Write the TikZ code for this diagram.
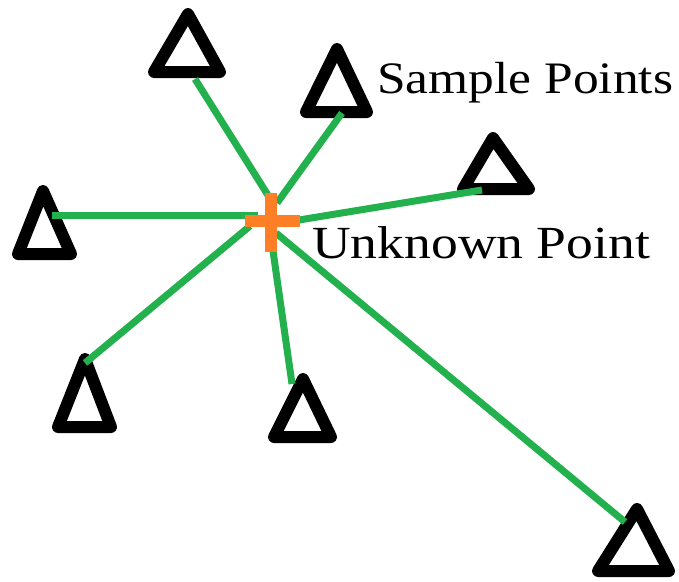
\documentclass[tikz,border=0pt]{standalone}
\usepackage{fontspec}
\setmainfont{Liberation Serif}
\definecolor{pgreen}{RGB}{34,177,76}
\definecolor{porange}{RGB}{255,127,39}
\begin{document}
\begin{tikzpicture}[x=1pt,y=-1pt,
  tri/.style={draw=black,line width=12pt,line join=round,fill=white},
  link/.style={draw=pgreen,line width=7pt},
  crossbar/.style={fill=porange,draw=none},
  lbl/.style={inner sep=0pt,font=\fontsize{45}{50}\selectfont}]
\useasboundingbox (0,0) rectangle (679,581);
% sample triangles
\draw[tri] (188,14) -- (220,72) -- (154,72) -- cycle;
\draw[tri] (337,49) -- (367,112) -- (306,112) -- cycle;
\draw[tri] (493,138) -- (529,189) -- (463,189) -- cycle;
\draw[tri] (43,191) -- (71,254) -- (18,254) -- cycle;
\draw[tri] (85,359) -- (111,427) -- (58,427) -- cycle;
\draw[tri] (303,379) -- (331,437) -- (274,437) -- cycle;
\draw[tri] (637,509) -- (669,571) -- (598,571) -- cycle;
% connector ends
\coordinate (s1) at (195,79);  \coordinate (e1) at (271,200);
\coordinate (s2) at (342,113); \coordinate (e2) at (277,203);
\coordinate (s3) at (482,190); \coordinate (e3) at (299,220);
\coordinate (s4) at (52,215);  \coordinate (e4) at (258,215);
\coordinate (s5) at (85,363);  \coordinate (e5) at (250,226);
\coordinate (s6) at (292,384); \coordinate (e6) at (272,244);
\coordinate (s7) at (625,522); \coordinate (e7) at (276,233);
\foreach \i in {1,...,7} {\draw[link] (s\i) -- (e\i);}
% unknown point cross
\node[crossbar,minimum width=55pt,minimum height=12pt,inner sep=0pt] (uh) at (272.5,221) {};
\node[crossbar,minimum width=12pt,minimum height=59pt,inner sep=0pt] (uv) at (271,222.5) {};
% labels
\node[lbl,anchor=base west] (sp) at (377,93) {\scalebox{1.144}[1]{Sample Points}};
\node[lbl,anchor=base west,font=\fontsize{46}{50}\selectfont] (up) at (312,258) {\scalebox{1.165}[1]{Unknown Point}};
\end{tikzpicture}
\end{document}
